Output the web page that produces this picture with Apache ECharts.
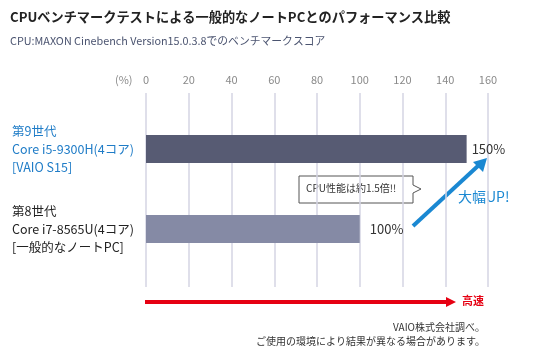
<!DOCTYPE html>
<html>
<head>
<meta charset="utf-8">
<script src="https://cdn.jsdelivr.net/npm/echarts@6/dist/echarts.min.js"></script>
<style>
  html, body { margin: 0; padding: 0; background: #fff; }
  #chart { width: 535px; height: 353px; }
</style>
</head>
<body>
<div id="chart"></div>
<script>
// データ
const categories = ['第9世代\nCore i5-9300H(4コア)\n[VAIO S15]', '第8世代\nCore i7-8565U(4コア)\n[一般的なノートPC]']
const scores = [150, 100]
const barColors = ['#575b73', '#858aa5']
const labelColors = ['#1f7cc7', '#222']
const xTicks = [0, 20, 40, 60, 80, 100, 120, 140, 160]

const font = '"Noto Sans CJK JP", "Noto Sans", sans-serif'
const chart = echarts.init(document.getElementById('chart'))

const option = {
  textStyle: { fontFamily: font },
  title: {
    text: 'CPUベンチマークテストによる一般的なノートPCとのパフォーマンス比較',
    subtext: 'CPU:MAXON Cinebench Version15.0.3.8でのベンチマークスコア',
    left: 5,
    top: 5,
    itemGap: 12,
    textStyle: { fontSize: 13.2, fontWeight: 'bold', color: '#222', fontFamily: font },
    subtextStyle: { fontSize: 10.8, color: '#4b5470', fontFamily: font }
  },
  grid: [
    { left: 146, right: 47, top: 93, bottom: 66, outerBoundsMode: 'none' },
    { left: 146, right: 47, top: 109, height: 160, outerBoundsMode: 'none' }
  ],
  xAxis: [
    {
      gridIndex: 0,
      type: 'value',
      position: 'top',
      min: xTicks[0],
      max: xTicks[xTicks.length - 1],
      interval: 20,
      axisLine: { show: false },
      axisTick: { show: false },
      axisLabel: { color: '#8a8a8a', fontSize: 11, margin: 8 },
      splitLine: { lineStyle: { color: '#d4d5e3', width: 1.5 } }
    },
    {
      gridIndex: 1,
      type: 'value',
      min: xTicks[0],
      max: xTicks[xTicks.length - 1],
      show: false
    }
  ],
  yAxis: [
    { gridIndex: 0, type: 'category', data: ['a'], show: false },
    {
      gridIndex: 1,
      type: 'category',
      inverse: true,
      data: categories.map((c, i) => ({
        value: c,
        textStyle: { color: labelColors[i], align: 'left', fontSize: 12.5, lineHeight: 18 }
      })),
      axisLine: { show: false },
      axisTick: { show: false },
      axisLabel: { align: 'left', margin: 134, fontSize: 12.5, lineHeight: 18 }
    }
  ],
  series: [
    {
      type: 'bar',
      xAxisIndex: 1,
      yAxisIndex: 1,
      barWidth: 28,
      data: scores.map((v, i) => ({
        value: v,
        itemStyle: { color: barColors[i] },
        label: { distance: i === 0 ? 5 : 10 }
      })),
      label: {
        show: true,
        position: 'right',
        formatter: '{c}%',
        fontSize: 13,
        color: '#333'
      },
      silent: true
    }
  ],
  graphic: [
    // 吹き出し
    {
      type: 'polygon',
      shape: { points: [[299, 176], [413, 176], [413, 185], [421, 189], [413, 193], [413, 203], [299, 203]] },
      style: { fill: '#fff', stroke: '#555', lineWidth: 1 }
    },
    {
      type: 'text', left: 306, top: 183,
      style: { text: 'CPU性能は約1.5倍!!', fontSize: 10, fill: '#333', fontFamily: font }
    },
    // 青矢印
    {
      type: 'line',
      shape: { x1: 413, y1: 226, x2: 479, y2: 165 },
      style: { stroke: '#1a88d2', lineWidth: 4 }
    },
    {
      type: 'polygon',
      shape: { points: [[487, 158], [473, 162], [483, 172]] },
      style: { fill: '#1a88d2' }
    },
    {
      type: 'text', left: 458, top: 190,
      style: { text: '大幅UP!', fontSize: 14, fill: '#1a88d2', fontFamily: font }
    },
    // 赤矢印
    {
      type: 'line',
      shape: { x1: 145, y1: 302, x2: 449, y2: 302 },
      style: { stroke: '#e60012', lineWidth: 4 }
    },
    {
      type: 'polygon',
      shape: { points: [[446, 297], [456, 302], [446, 307]] },
      style: { fill: '#e60012' }
    },
    {
      type: 'text', left: 462, top: 295,
      style: { text: '高速', fontSize: 11, fontWeight: 'bold', fill: '#e60012', fontFamily: font }
    },
    // 注記
    {
      type: 'text', right: 50, top: 322,
      style: { text: 'VAIO株式会社調べ。', fontSize: 10, fill: '#333', fontFamily: font, align: 'right' }
    },
    {
      type: 'text', right: 50, top: 336,
      style: { text: 'ご使用の環境により結果が異なる場合があります。', fontSize: 10, fill: '#333', fontFamily: font, align: 'right' }
    },
    {
      type: 'text', left: 115, top: 74,
      style: { text: '(%)', fontSize: 11, fill: '#8a8a8a', fontFamily: font }
    }
  ]
}

chart.setOption(option)
</script>
</body>
</html>
